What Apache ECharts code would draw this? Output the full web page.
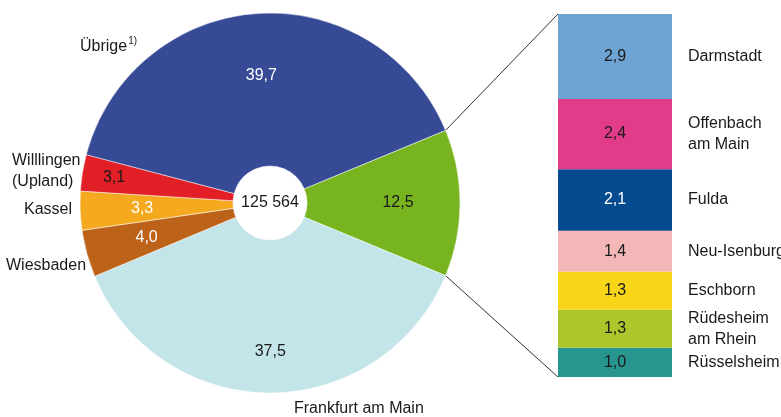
<!DOCTYPE html>
<html>
<head>
<meta charset="utf-8">
<script src="https://cdn.jsdelivr.net/npm/echarts@6/dist/echarts.min.js"></script>
<style>
  html, body { margin: 0; padding: 0; background: #fff; }
  #chart { width: 781px; height: 417px; }
</style>
</head>
<body>
<div id="chart"></div>
<script>
// Pie data, clockwise from the green slice (which is broken out in the bar)
const pieNames = ['Ausgewählte Städte', 'Frankfurt am Main', 'Wiesbaden', 'Kassel', 'Willlingen (Upland)', 'Übrige'];
const pieShares = [12.5, 37.5, 4.0, 3.3, 3.1, 39.7];
const totalLabel = '125 564';

// Bar breakdown of the green slice, top to bottom
const barNames = ['Darmstadt', 'Offenbach am Main', 'Fulda', 'Neu-Isenburg', 'Eschborn', 'Rüdesheim am Rhein', 'Rüsselsheim'];
const barShares = [2.9, 2.4, 2.1, 1.4, 1.3, 1.3, 1.0];

// styles
const FONT = "'Liberation Sans', Arial, sans-serif";
const FS = 16;
const pieColors = ['#77b41f', '#c3e4e9', '#bd6219', '#f5a91f', '#e21e26', '#364a96'];
const pieTextColors = ['#1a1a1a', '#1a1a1a', '#ffffff', '#ffffff', '#1a1a1a', '#ffffff'];
const barColors = ['#6ea4d3', '#e23b89', '#034b8e', '#f4b7b8', '#f8d518', '#adc62b', '#28968f'];
const barTextColors = ['#1a1a1a', '#1a1a1a', '#ffffff', '#1a1a1a', '#1a1a1a', '#1a1a1a', '#1a1a1a'];

// display names with line breaks
const displayNames = {
    'Willlingen (Upland)': 'Willlingen\n(Upland)',
    'Offenbach am Main': 'Offenbach\nam Main',
    'Rüdesheim am Rhein': 'Rüdesheim\nam Rhein'
};

// layout
const CX = 270, CY = 203, R0 = 37, R = 190;
const GRID = { left: 558, top: 14, width: 114, height: 363 };
// radius for value labels inside the pie
const innerRadius = { 'Frankfurt am Main': 149, 'Willlingen (Upland)': 158 };
// anchor (left x, middle y) of outer names
const outerAnchors = {
    'Übrige': [80, 47],
    'Willlingen (Upland)': [12, 171],
    'Kassel': [24, 210],
    'Wiesbaden': [6, 266],
    'Frankfurt am Main': [294, 409]
};

const fmt = v => v.toFixed(1).replace('.', ',');
const pieSum = pieShares.reduce((a, b) => a + b, 0);
const startAngle = pieShares[0] / pieSum * 360 / 2;
const barSum = barShares.reduce((a, b) => a + b, 0);

function midAngle(i) {
    let cum = 0;
    for (let k = 0; k < i; k++) cum += pieShares[k];
    return (startAngle - (cum + pieShares[i] / 2) / pieSum * 360) * Math.PI / 180;
}

const pieData = pieNames.map((n, i) => ({
    name: n,
    value: pieShares[i],
    itemStyle: { color: pieColors[i] },
    label: { color: pieTextColors[i] }
}));

const series = [];

// visible pie with values
series.push({
    type: 'pie',
    center: [CX, CY],
    radius: [R0, R],
    startAngle: startAngle,
    clockwise: true,
    silent: true,
    itemStyle: { borderColor: '#ffffff', borderWidth: 0.5 },
    label: {
        position: 'inside',
        fontFamily: FONT,
        fontSize: FS,
        formatter: p => fmt(p.value)
    },
    labelLine: { show: false },
    labelLayout: function (p) {
        const i = p.dataIndex;
        const r = innerRadius[pieNames[i]] || 128;
        const a = midAngle(i);
        return { x: CX + r * Math.cos(a), y: CY - r * Math.sin(a), align: 'center', verticalAlign: 'middle' };
    },
    data: pieData
});

// transparent pie carrying the outer names
series.push({
    type: 'pie',
    center: [CX, CY],
    radius: [R0, R],
    startAngle: startAngle,
    silent: true,
    itemStyle: { color: 'rgba(0,0,0,0)' },
    label: {
        position: 'outside',
        fontFamily: FONT,
        fontSize: FS,
        color: '#1a1a1a',
        lineHeight: 21,
        overflow: 'none',
        width: 200,
        formatter: p => {
            if (!outerAnchors[p.name]) return '';
            if (p.name === 'Übrige') return '{a|Übrige}{s|1)}';
            return displayNames[p.name] || p.name;
        },
        rich: {
            a: { fontFamily: FONT, fontSize: FS, color: '#1a1a1a' },
            s: { fontFamily: FONT, fontSize: 10, color: '#1a1a1a', verticalAlign: 'top', padding: [0, 0, 9, 1] }
        }
    },
    labelLine: { show: false },
    labelLayout: function (p) {
        const pos = outerAnchors[pieNames[p.dataIndex]];
        if (!pos) return {};
        return { x: pos[0], y: pos[1], align: 'left', verticalAlign: 'middle' };
    },
    data: pieNames.map((n, i) => ({ name: n, value: pieShares[i] }))
});

// stacked bar, bottom segment first
for (let i = barNames.length - 1; i >= 0; i--) {
    series.push({
        type: 'bar',
        name: barNames[i],
        stack: 'values',
        barWidth: '100%',
        barGap: '-100%',
        silent: true,
        itemStyle: { color: barColors[i] },
        label: {
            show: true,
            position: 'inside',
            fontFamily: FONT,
            fontSize: FS,
            color: barTextColors[i],
            formatter: p => fmt(p.value)
        },
        data: [barShares[i]]
    });
}
// invisible twin stack for the city names on the right
for (let i = barNames.length - 1; i >= 0; i--) {
    series.push({
        type: 'bar',
        name: barNames[i] + ' ',
        stack: 'names',
        barWidth: '100%',
        barGap: '-100%',
        silent: true,
        itemStyle: { color: 'rgba(0,0,0,0)' },
        label: {
            show: true,
            position: 'right',
            distance: 16,
            fontFamily: FONT,
            fontSize: FS,
            lineHeight: 21,
            color: '#1a1a1a',
            formatter: () => displayNames[barNames[i]] || barNames[i]
        },
        data: [barShares[i]]
    });
}

const chart = echarts.init(document.getElementById('chart'));
chart.setOption({
    animation: false,
    backgroundColor: '#ffffff',
    grid: GRID,
    xAxis: { type: 'category', data: ['Städte'], show: false, boundaryGap: true },
    yAxis: { type: 'value', min: 0, max: barSum, show: false },
    series: series
});

// connector lines from the green slice to the bar, plus the total in the hole
const a = startAngle * Math.PI / 180;
const pTop = [CX + R * Math.cos(a), CY - R * Math.sin(a)];
const pBot = [CX + R * Math.cos(a), CY + R * Math.sin(a)];
const barTop = chart.convertToPixel({ yAxisIndex: 0 }, barSum);
const barBot = chart.convertToPixel({ yAxisIndex: 0 }, 0);
chart.setOption({
    graphic: [
        { type: 'line', shape: { x1: pTop[0], y1: pTop[1], x2: GRID.left, y2: barTop }, style: { stroke: '#333', lineWidth: 1 }, silent: true },
        { type: 'line', shape: { x1: pBot[0], y1: pBot[1], x2: GRID.left, y2: barBot }, style: { stroke: '#333', lineWidth: 1 }, silent: true },
        { type: 'text', x: CX, y: CY, silent: true,
          style: { text: totalLabel, fontFamily: FONT, fontSize: FS, fill: '#1a1a1a', align: 'center', verticalAlign: 'middle' } }
    ]
});
</script>
</body>
</html>
